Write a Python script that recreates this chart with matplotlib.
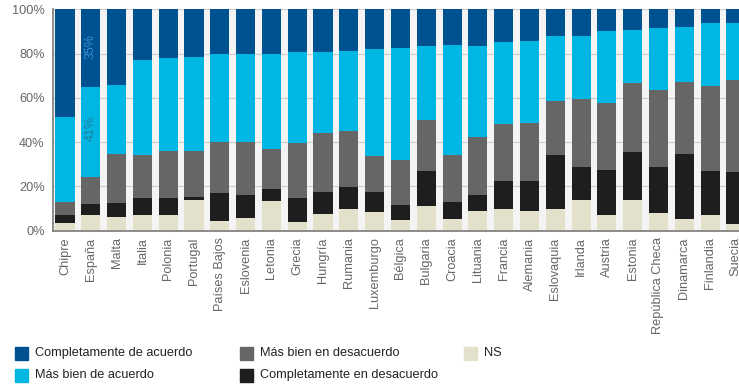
import numpy as np
import matplotlib.pyplot as plt
from matplotlib.patches import Rectangle

plt.rcParams['font.family'] = ['Liberation Sans', 'DejaVu Sans']

paises = ['Chipre', 'España', 'Malta', 'Italia', 'Polonia', 'Portugal', 'Países Bajos',
          'Eslovenia', 'Letonia', 'Grecia', 'Hungría', 'Rumania', 'Luxemburgo', 'Bélgica',
          'Bulgaria', 'Croacia', 'Lituania', 'Francia', 'Alemania', 'Eslovaquia', 'Irlanda',
          'Austria', 'Estonia', 'República Checa', 'Dinamarca', 'Finlandia', 'Suecia']

ns = [3.3, 7, 6, 7, 7, 13.8, 4.3, 5.5, 13.3, 3.7, 7.5, 9.6, 8.4, 4.6,
      11.2, 5.1, 9, 9.9, 9, 9.9, 13.7, 7, 13.7, 7.8, 5.3, 7, 2.8]
comp_desacuerdo = [3.7, 5, 6.3, 7.6, 7.6, 1.4, 12.5, 10.5, 5.3, 11, 10.1, 9.9, 9.2, 6.8,
                   15.6, 7.8, 7.2, 12.5, 13.4, 24.1, 15, 20.2, 21.8, 20.9, 29.2, 19.8, 23.5]
mb_desacuerdo = [5.8, 12, 22.2, 19.6, 21.4, 20.8, 23.4, 24, 18.3, 24.8, 26.5, 25.4, 16.1, 20.4,
                 23.3, 21.3, 26.2, 25.6, 26.2, 24.5, 30.9, 30.5, 31.1, 34.9, 32.8, 38.7, 41.8]
mb_acuerdo = [38.7, 41, 31.5, 42.8, 42, 42.5, 39.8, 40, 43.1, 41, 36.8, 36.1, 48.3, 50.6,
              33.4, 49.8, 41.1, 37.3, 37.1, 29.6, 28.5, 32.4, 24, 27.9, 24.7, 28.4, 25.8]
comp_acuerdo = [48.5, 35, 34, 23, 22, 21.5, 20, 20, 20, 19.5, 19.1, 19, 18, 17.6,
                16.5, 16, 16.5, 14.7, 14.3, 11.9, 11.9, 9.9, 9.4, 8.5, 8, 6.1, 6.1]

series = [
    ('NS', ns, '#e3e1cb'),
    ('Completamente en desacuerdo', comp_desacuerdo, '#1e1e1e'),
    ('Más bien en desacuerdo', mb_desacuerdo, '#666666'),
    ('Más bien de acuerdo', mb_acuerdo, '#00b6e2'),
    ('Completamente de acuerdo', comp_acuerdo, '#00518f'),
]
colores = {nombre: c for nombre, _, c in series}

fig = plt.figure(figsize=(7.39, 3.85), dpi=100)
ax = fig.add_axes([53 / 739, 1 - 230.5 / 385, 686 / 739, 221.2 / 385])
ax.set_facecolor('#f4f4f4')

x = np.arange(len(paises))
base = np.zeros(len(paises))
for nombre, vals, color in series:
    vals = np.array(vals, dtype=float)
    ax.bar(x, vals, 0.74, bottom=base, color=color, zorder=2)
    base += vals

# etiquetas de España
ax.text(1, 83, '35%', rotation=90, ha='center', va='center', color='#3d8fd6', fontsize=9, zorder=3)
ax.text(1, 46, '41%', rotation=90, ha='center', va='center', color='#1f7d9f', fontsize=9, zorder=3)

ax.set_xlim(-0.465, 26.12)
ax.set_ylim(0, 100)
ax.set_yticks([0, 20, 40, 60, 80, 100])
ax.set_yticklabels(['0%', '20%', '40%', '60%', '80%', '100%'])
ax.set_xticks(x)
ax.set_xticklabels(paises, rotation=90)
ax.tick_params(axis='both', length=0, labelsize=9.2, labelcolor='#666666')
ax.tick_params(axis='y', pad=6)
ax.tick_params(axis='x', pad=5)
ax.grid(axis='y', color='#cfcfcf', linewidth=0.9, zorder=1)
ax.set_axisbelow(True)
for s in ['top', 'right']:
    ax.spines[s].set_visible(False)
for s in ['left', 'bottom']:
    ax.spines[s].set_color('#7a7a7a')
    ax.spines[s].set_linewidth(1.2)

# leyenda
items = [
    ('Completamente de acuerdo', 15, 353),
    ('Más bien de acuerdo', 15, 375),
    ('Más bien en desacuerdo', 240, 353),
    ('Completamente en desacuerdo', 240, 375),
    ('NS', 464, 353),
]
for nombre, px, py in items:
    fig.patches.append(Rectangle((px / 739, 1 - (py + 6.5) / 385), 13 / 739, 13 / 385,
                                 transform=fig.transFigure, color=colores[nombre]))
    fig.text((px + 20) / 739, 1 - py / 385, nombre, ha='left', va='center',
             fontsize=9.2, color='#222222')

fig.savefig('out.png', dpi=100)
